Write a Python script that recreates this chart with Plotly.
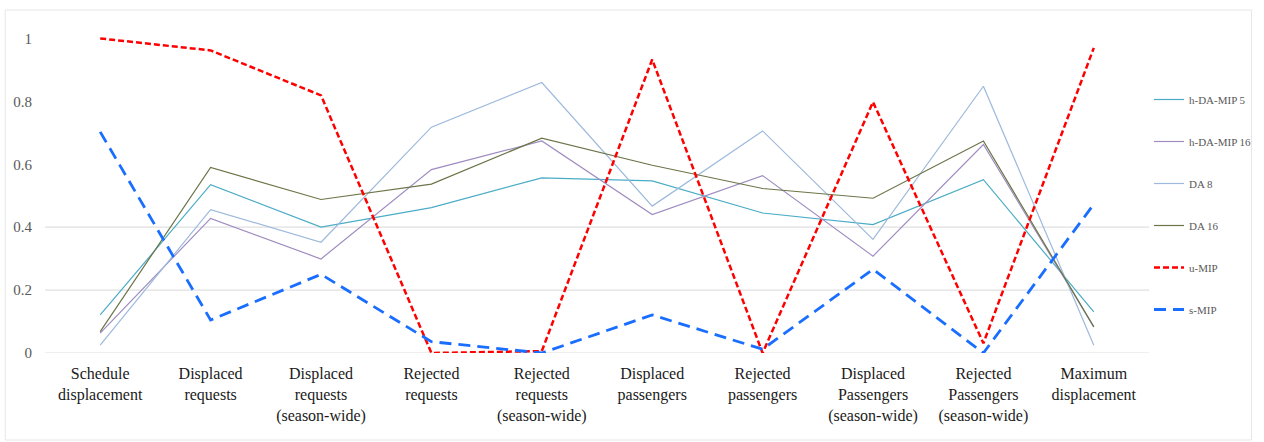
import plotly.graph_objects as go

# Evaluation criteria (x axis)
categories = [
    "Schedule<br>displacement",
    "Displaced<br>requests",
    "Displaced<br>requests<br>(season-wide)",
    "Rejected<br>requests",
    "Rejected<br>requests<br>(season-wide)",
    "Displaced<br>passengers",
    "Rejected<br>passengers",
    "Displaced<br>Passengers<br>(season-wide)",
    "Rejected<br>Passengers<br>(season-wide)",
    "Maximum<br>displacement",
]

# Normalised scores per method
h_da_mip_5 = [0.121, 0.535, 0.400, 0.462, 0.557, 0.547, 0.445, 0.408, 0.551, 0.131]
h_da_mip_16 = [0.063, 0.428, 0.299, 0.583, 0.674, 0.440, 0.564, 0.308, 0.663, 0.083]
da_8 = [0.025, 0.456, 0.352, 0.718, 0.860, 0.467, 0.706, 0.361, 0.848, 0.025]
da_16 = [0.068, 0.590, 0.488, 0.537, 0.683, 0.597, 0.523, 0.492, 0.674, 0.083]
u_mip = [1.000, 0.962, 0.819, 0.000, 0.006, 0.933, 0.000, 0.798, 0.031, 0.970]
s_mip = [0.703, 0.105, 0.250, 0.036, 0.000, 0.121, 0.012, 0.266, 0.000, 0.473]

y_ticks = [0, 0.2, 0.4, 0.6, 0.8, 1]
y_tick_text = ["0", "0.2", "0.4", "0.6", "0.8", "1"]
grid_levels = [0, 0.2, 0.4]

series = [
    ("h-DA-MIP 5", h_da_mip_5, dict(color="#4BACC6", width=1.2)),
    ("h-DA-MIP 16", h_da_mip_16, dict(color="#9F8CC0", width=1.2)),
    ("DA 8", da_8, dict(color="#9DB9DC", width=1.2)),
    ("DA 16", da_16, dict(color="#6B7548", width=1.2)),
    ("u-MIP", u_mip, dict(color="#FF0000", width=2.5, dash="6px,3px")),
    ("s-MIP", s_mip, dict(color="#1A6EFF", width=2.8, dash="12px,7px")),
]

x_idx = list(range(len(categories)))

fig = go.Figure()
for i, (name, vals, line) in enumerate(series):
    fig.add_trace(go.Scatter(
        x=x_idx, y=vals, mode="lines", name=name, line=line,
        legendgroup=f"g{i}", hoverinfo="skip",
    ))

serif = "'Times New Roman', 'Liberation Serif', Tinos, 'DejaVu Serif', serif"

L, R, T, B = 45, 109, 7, 89
W, H = 1264, 442
pw, ph = W - L - R, H - T - B

def px_x(px):
    return (px - L) / pw

def px_y(py):
    return (H - B - py) / ph

shapes = [
    # outer frame
    dict(type="rect", xref="paper", yref="paper",
         x0=px_x(5), x1=px_x(1258), y0=px_y(440), y1=px_y(10),
         line=dict(color="#E6E6E6", width=1), fillcolor="rgba(0,0,0,0)", layer="below"),
]
for g in grid_levels:
    shapes.append(dict(type="line", xref="paper", yref="y", x0=0, x1=1, y0=g, y1=g,
                       line=dict(color="#E0E0E0", width=1.2), layer="below"))

fig.update_layout(
    width=W, height=H,
    margin=dict(l=L, r=R, t=T, b=B),
    paper_bgcolor="white", plot_bgcolor="white",
    font=dict(family=serif),
    shapes=shapes,
    xaxis=dict(
        range=[-0.5, len(categories) - 0.5],
        tickmode="array", tickvals=x_idx, ticktext=categories,
        tickfont=dict(size=16, color="#1A1A1A", family=serif),
        showgrid=False, zeroline=False, showline=False, ticks="",
        ticklabelstandoff=9,
    ),
    yaxis=dict(
        range=[0, 1.1],
        tickmode="array", tickvals=y_ticks, ticktext=y_tick_text,
        tickfont=dict(size=15, color="#595959", family=serif),
        showgrid=False, zeroline=False, showline=False, ticks="",
        ticklabelstandoff=12,
    ),
    legend=dict(
        x=1.0, xanchor="left", y=px_y(85), yanchor="top",
        font=dict(size=11, color="#595959", family=serif),
        tracegroupgap=23, itemwidth=30,
        bgcolor="rgba(0,0,0,0)",
    ),
    showlegend=True,
)

fig.write_html("out.html")
